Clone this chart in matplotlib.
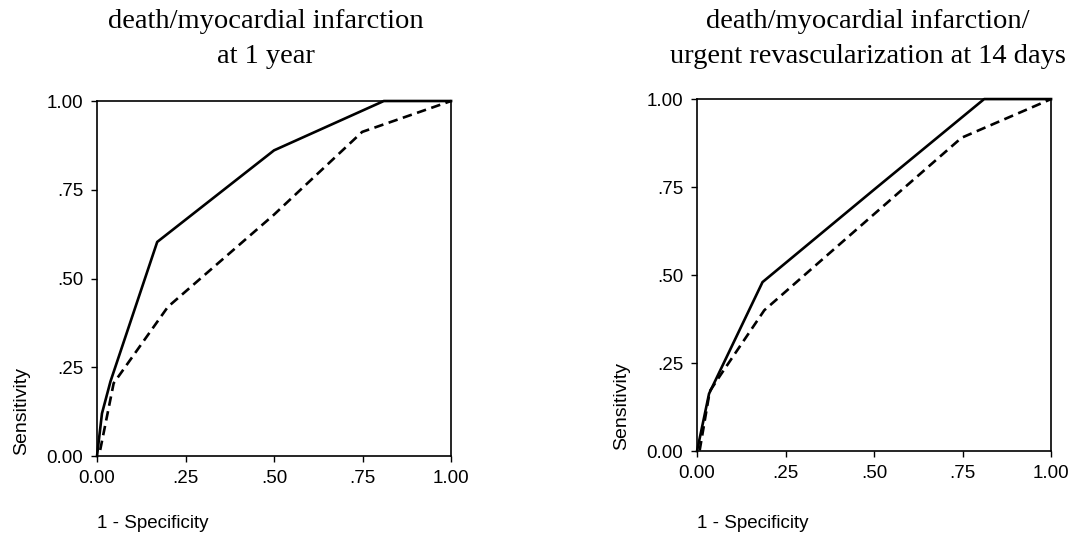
import matplotlib
matplotlib.use('Agg')
import matplotlib.pyplot as plt

# ROC curves
fpr_a_solid = [0.0, 0.014, 0.038, 0.17, 0.50, 0.81, 1.0]
tpr_a_solid = [0.0, 0.12, 0.21, 0.603, 0.861, 1.0, 1.0]
fpr_a_dash = [0.009, 0.047, 0.20, 0.50, 0.749, 1.0]
tpr_a_dash = [0.017, 0.205, 0.42, 0.68, 0.913, 1.0]

fpr_b_solid = [0.0, 0.034, 0.185, 0.498, 0.811, 1.0]
tpr_b_solid = [0.0, 0.163, 0.48, 0.741, 1.0, 1.0]
fpr_b_dash = [0.0075, 0.036, 0.069, 0.19, 0.50, 0.747, 1.0]
tpr_b_dash = [0.002, 0.17, 0.22, 0.40, 0.673, 0.89, 1.0]

ticks = [0.0, 0.25, 0.5, 0.75, 1.0]
tick_labels = ['0.00', '.25', '.50', '.75', '1.00']

titles = ["death/myocardial infarction\nat 1 year",
          "death/myocardial infarction/\nurgent revascularization at 14 days"]
title_x = [0.2454, 0.8007]
xlabel_y = [-0.189, -0.205]

fig = plt.figure(figsize=(10.84, 5.37), dpi=100)
ax1 = fig.add_axes([0.0895, 0.1508, 0.3266, 0.6611])
ax2 = fig.add_axes([0.643, 0.160, 0.3266, 0.6555])

panels = [
    (ax1, fpr_a_solid, tpr_a_solid, fpr_a_dash, tpr_a_dash, titles[0], title_x[0], xlabel_y[0]),
    (ax2, fpr_b_solid, tpr_b_solid, fpr_b_dash, tpr_b_dash, titles[1], title_x[1], xlabel_y[1]),
]

for ax, xs, ys, xd, yd, title, tx, ly in panels:
    ax.plot(xs, ys, color='black', linewidth=1.9, clip_on=False)
    ax.plot(xd, yd, color='black', linewidth=1.9, linestyle=(0, (3.6, 2.1)), clip_on=False)
    ax.set_xlim(0, 1)
    ax.set_ylim(0, 1)
    ax.set_xticks(ticks)
    ax.set_xticklabels(tick_labels)
    ax.set_yticks(ticks)
    ax.set_yticklabels(tick_labels)
    for lbl in ax.get_xticklabels() + ax.get_yticklabels():
        lbl.set_fontfamily('Liberation Sans')
        lbl.set_fontsize(13.5)
    ax.tick_params(direction='out', length=4, width=1.0, color='black', pad=6)
    for sp in ax.spines.values():
        sp.set_linewidth(1.2)
    ax.set_ylabel('Sensitivity', fontfamily='Liberation Sans', fontsize=14)
    ax.yaxis.set_label_coords(-0.212, 0.127)
    ax.yaxis.label.set_verticalalignment('center')
    ax.text(0.0, ly, '1 - Specificity', transform=ax.transAxes,
            fontfamily='Liberation Sans', fontsize=13.5, ha='left', va='center')
    fig.text(tx, 0.927, title, ha='center', va='center',
             fontfamily='Liberation Serif', fontsize=20.5, linespacing=1.5)

plt.savefig('out.png', dpi=100)
